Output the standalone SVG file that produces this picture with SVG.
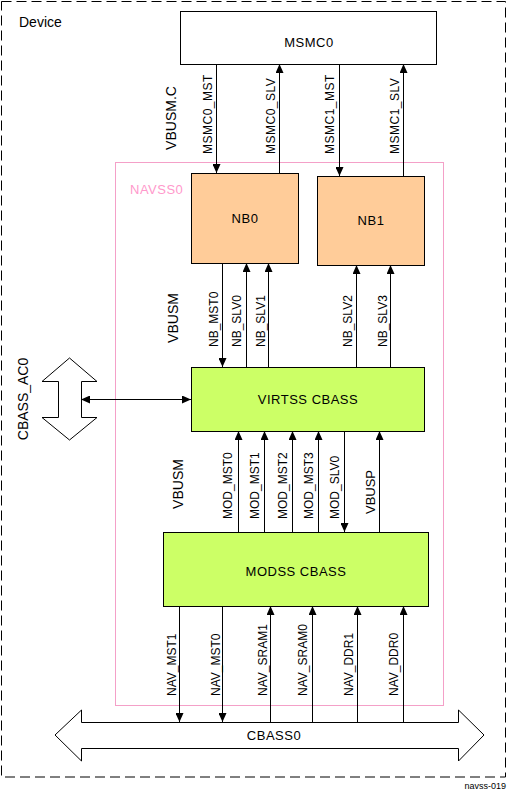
<svg xmlns="http://www.w3.org/2000/svg" width="508" height="792" viewBox="0 0 508 792">
<defs>
<marker id="ah" viewBox="0 0 9 8" refX="9" refY="4" markerWidth="9" markerHeight="8" markerUnits="userSpaceOnUse" orient="auto-start-reverse">
<path d="M0,0 L9,4 L0,8 z" fill="#000"/>
</marker>
<style>
text{font-family:"Liberation Sans",Arial,sans-serif;font-size:12px;fill:#000}
.lbl{text-anchor:start}
.mid{text-anchor:middle}
.bt{font-size:13px;letter-spacing:0.5px;text-anchor:middle}
.sec{font-size:14px;text-anchor:middle}
.box{stroke:#000;stroke-width:1}
.con line{stroke:#000;stroke-width:1;fill:none}
.arr{marker-end:url(#ah)}
.both{marker-start:url(#ah);marker-end:url(#ah)}
</style>
</defs>
<rect width="508" height="792" fill="#fff"/>
<g id="device">
<rect x="1.5" y="1.5" width="504" height="775.5" fill="none" stroke="#000" stroke-dasharray="10,5"/>
<text x="19" y="27" style="font-size:14px">Device</text>
</g>
<g id="navss0">
<rect x="115.5" y="162.5" width="328" height="543" fill="none" stroke="#f4a0c8"/>
<text x="130" y="194" style="fill:#ff99cc;font-size:13px;letter-spacing:0.5px">NAVSS0</text>
</g>
<g id="msmc0">
<rect class="box" x="180.5" y="11.5" width="256" height="53" fill="#fff"/>
<text class="bt" x="309" y="47">MSMC0</text>
</g>
<g id="nb0">
<rect class="box" x="191.5" y="173.5" width="107" height="90" fill="#ffcc99"/>
<text class="bt" x="245" y="223">NB0</text>
</g>
<g id="nb1">
<rect class="box" x="317.5" y="176.5" width="107" height="89" fill="#ffcc99"/>
<text class="bt" x="371" y="225">NB1</text>
</g>
<g id="virtss">
<rect class="box" x="191.5" y="367.5" width="233" height="64" fill="#ccff66"/>
<text class="bt" x="308" y="404">VIRTSS CBASS</text>
</g>
<g id="modss">
<rect class="box" x="163.5" y="532.5" width="265" height="74" fill="#ccff66"/>
<text class="bt" x="296" y="576">MODSS CBASS</text>
</g>
<g id="cbass_ac0">
<polygon points="69.5,358 97,381.5 81.5,381.5 81.5,417.5 97,417.5 69.5,440 42,417.5 58.5,417.5 58.5,381.5 42,381.5" fill="#fff" stroke="#000"/>
<text class="sec" transform="translate(28,399) rotate(-90)">CBASS_AC0</text>
</g>
<g id="cbass0">
<polygon points="55,735 81.5,710 81.5,722.5 458.5,722.5 458.5,710 484,735 458.5,761 458.5,748.5 81.5,748.5 81.5,761" fill="#fff" stroke="#000"/>
<text class="bt" x="274" y="740">CBASS0</text>
</g>
<g id="connectors" class="con">
<line class="arr" x1="216.5" y1="64" x2="216.5" y2="173"/>
<line class="arr" x1="279.5" y1="173" x2="279.5" y2="64"/>
<line class="arr" x1="339.5" y1="64" x2="339.5" y2="176"/>
<line class="arr" x1="403.5" y1="176" x2="403.5" y2="64"/>
<line class="arr" x1="222.5" y1="263" x2="222.5" y2="367"/>
<line class="arr" x1="246.5" y1="367" x2="246.5" y2="263"/>
<line class="arr" x1="268.5" y1="367" x2="268.5" y2="263"/>
<line class="arr" x1="356.5" y1="367" x2="356.5" y2="265"/>
<line class="arr" x1="390.5" y1="367" x2="390.5" y2="265"/>
<line class="both" x1="81" y1="399.5" x2="191" y2="399.5"/>
<line class="arr" x1="238.5" y1="532" x2="238.5" y2="431"/>
<line class="arr" x1="264.5" y1="532" x2="264.5" y2="431"/>
<line class="arr" x1="292.5" y1="532" x2="292.5" y2="431"/>
<line class="arr" x1="318.5" y1="532" x2="318.5" y2="431"/>
<line class="arr" x1="344.5" y1="431" x2="344.5" y2="532"/>
<line class="arr" x1="379.5" y1="532" x2="379.5" y2="431"/>
<line class="arr" x1="179.5" y1="606" x2="179.5" y2="722"/>
<line class="arr" x1="222.5" y1="606" x2="222.5" y2="722"/>
<line class="arr" x1="270.5" y1="722" x2="270.5" y2="606"/>
<line class="arr" x1="312.5" y1="722" x2="312.5" y2="606"/>
<line class="arr" x1="357.5" y1="722" x2="357.5" y2="606"/>
<line class="arr" x1="403.5" y1="722" x2="403.5" y2="606"/>
</g>
<g id="labels">
<text class="sec" transform="translate(176,118) rotate(-90)">VBUSM.C</text>
<text class="lbl" transform="translate(212,154) rotate(-90)" style="letter-spacing:0.5px">MSMC0_MST</text>
<text class="lbl" transform="translate(275,154) rotate(-90)" style="letter-spacing:0.5px">MSMC0_SLV</text>
<text class="lbl" transform="translate(334,154) rotate(-90)" style="letter-spacing:0.5px">MSMC1_MST</text>
<text class="lbl" transform="translate(399,154) rotate(-90)" style="letter-spacing:0.5px">MSMC1_SLV</text>
<text class="sec" transform="translate(178,318) rotate(-90)">VBUSM</text>
<text class="lbl" transform="translate(218,347) rotate(-90)">NB_MST0</text>
<text class="lbl" transform="translate(241,347) rotate(-90)">NB_SLV0</text>
<text class="lbl" transform="translate(265,347) rotate(-90)">NB_SLV1</text>
<text class="lbl" transform="translate(352,347) rotate(-90)">NB_SLV2</text>
<text class="lbl" transform="translate(387,347) rotate(-90)">NB_SLV3</text>
<text class="sec" transform="translate(183,484) rotate(-90)">VBUSM</text>
<text class="lbl" transform="translate(232,519) rotate(-90)">MOD_MST0</text>
<text class="lbl" transform="translate(259,519) rotate(-90)">MOD_MST1</text>
<text class="lbl" transform="translate(287,519) rotate(-90)">MOD_MST2</text>
<text class="lbl" transform="translate(313,519) rotate(-90)">MOD_MST3</text>
<text class="lbl" transform="translate(339,519) rotate(-90)">MOD_SLV0</text>
<text class="mid" transform="translate(375,492) rotate(-90)" style="font-size:13px">VBUSP</text>
<text class="lbl" transform="translate(176,696) rotate(-90)">NAV_MST1</text>
<text class="lbl" transform="translate(220,696) rotate(-90)">NAV_MST0</text>
<text class="lbl" transform="translate(267,696) rotate(-90)">NAV_SRAM1</text>
<text class="lbl" transform="translate(307,696) rotate(-90)">NAV_SRAM0</text>
<text class="lbl" transform="translate(353,696) rotate(-90)">NAV_DDR1</text>
<text class="lbl" transform="translate(398,696) rotate(-90)">NAV_DDR0</text>
</g>
<text x="506" y="789" style="font-size:9px;text-anchor:end">navss-019</text>
</svg>
